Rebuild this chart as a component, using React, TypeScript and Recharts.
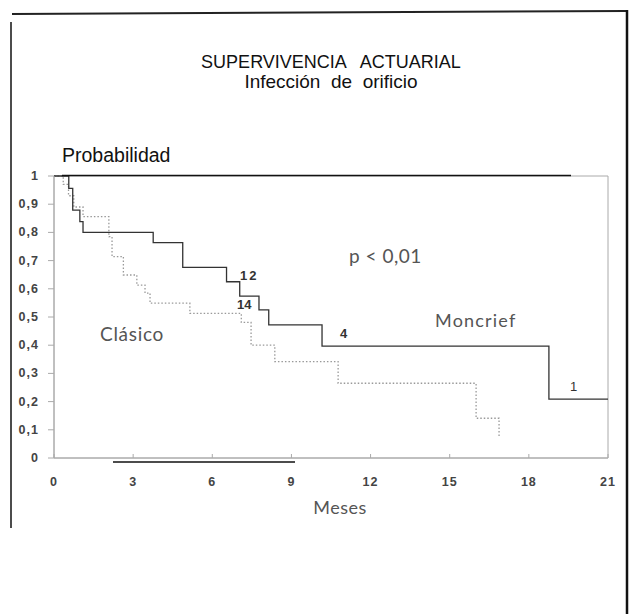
import React from "react";
import { LineChart, Line, XAxis, YAxis, ReferenceArea } from "recharts";

// Moncrief (línea continua)
const moncriefMeses = [0, 0.56, 0.71, 0.98, 1.1, 3.76, 4.88, 6.54, 7.04, 7.77, 8.14, 10.16, 18.76, 21];
const moncriefProb = [1, 0.956, 0.879, 0.838, 0.8, 0.764, 0.676, 0.625, 0.574, 0.525, 0.472, 0.397, 0.209, 0.209];

// Clásico (línea punteada)
const clasicoMeses = [0, 0.35, 0.55, 0.75, 1.1, 2.08, 2.2, 2.63, 3.14, 3.45, 3.64, 5.15, 7.1, 7.47, 8.37, 10.77, 16.0, 16.87];
const clasicoProb = [1, 0.97, 0.93, 0.89, 0.856, 0.785, 0.714, 0.649, 0.613, 0.585, 0.549, 0.513, 0.481, 0.4, 0.342, 0.265, 0.141, 0.078];

const xTicks = [0, 3, 6, 9, 12, 15, 18, 21];
const yTicks = [0, 0.1, 0.2, 0.3, 0.4, 0.5, 0.6, 0.7, 0.8, 0.9, 1];

const moncriefData = moncriefMeses.map((t, i) => ({ t, p: moncriefProb[i] }));
const clasicoData = clasicoMeses.map((t, i) => ({ t, p: clasicoProb[i] }));

const AXIS = "#aaa";
const TICK_FONT = "'Liberation Sans', Arial, sans-serif";
const LABEL_FONT = "Lato, 'Open Sans', sans-serif";

const XTick = (props: any) => {
  const { x, y, payload } = props;
  return (
    <g>
      <line x1={x} x2={x} y1={y - 4} y2={y} stroke={AXIS} />
      <text x={x} y={y + 28} textAnchor="middle" fontSize={12.5} fontWeight={600}
        fontFamily={TICK_FONT} fill="#444" letterSpacing={1}>
        {payload.value}
      </text>
    </g>
  );
};

const YTick = (props: any) => {
  const { x, y, payload } = props;
  const label = String(Math.round(payload.value * 10) / 10).replace(".", ",");
  return (
    <text x={x} y={y + 4} textAnchor="end" fontSize={12.5} fontWeight={600}
      fontFamily={TICK_FONT} fill="#444" letterSpacing={1}>
      {label}
    </text>
  );
};

export default function App() {
  return (
    <div style={{ position: "absolute", left: 0, top: 0, width: 635, height: 614, background: "#fff" }}>
      <LineChart width={635} height={614} data={moncriefData}
        margin={{ top: 176, right: 27, left: 10, bottom: 116 }}>
        <XAxis dataKey="t" type="number" domain={[0, 21]} ticks={xTicks}
          axisLine={{ stroke: AXIS }} tickLine={false} tickSize={0} tickMargin={0}
          height={40} tick={XTick} allowDataOverflow />
        <YAxis type="number" domain={[0, 1]} ticks={yTicks} width={44}
          axisLine={{ stroke: AXIS }} tickLine={{ stroke: AXIS }} tickSize={6} tickMargin={9}
          tick={YTick} />
        <ReferenceArea x1={0} x2={21} y1={0} y2={1} fill="none" stroke={AXIS} />
        <Line data={clasicoData} dataKey="p" type="stepAfter" stroke="#999" strokeWidth={1.3}
          strokeDasharray="1.5 2" dot={false} isAnimationActive={false} />
        <Line data={moncriefData} dataKey="p" type="stepAfter" stroke="#333" strokeWidth={1.3}
          dot={false} isAnimationActive={false} />
      </LineChart>

      <svg width={635} height={614} style={{ position: "absolute", left: 0, top: 0, pointerEvents: "none" }}>
        {/* marco de la página */}
        <line x1={12} y1={14} x2={626} y2={11} stroke="#222" strokeWidth={2} />
        <line x1={11} y1={22} x2={11} y2={528} stroke="#111" strokeWidth={1.5} />
        <line x1={627} y1={10} x2={627} y2={614} stroke="#111" strokeWidth={2.5} />
        <line x1={62} y1={175.5} x2={571} y2={175.5} stroke="#111" strokeWidth={1.5} />
        <line x1={113} y1={462} x2={295} y2={462} stroke="#111" strokeWidth={1.5} />

        <text x={331} y={68} textAnchor="middle" fontSize={18} fontFamily={TICK_FONT}
          fill="#111" style={{ whiteSpace: "pre" }}>
          SUPERVIVENCIA   ACTUARIAL
        </text>
        <text x={331} y={88} textAnchor="middle" fontSize={19} fontFamily={TICK_FONT} fill="#111"
          style={{ whiteSpace: "pre" }}>
          Infección  de  orificio
        </text>
        <text x={62} y={162} fontSize={19.5} fontFamily={TICK_FONT} fill="#111">Probabilidad</text>

        <text x={349} y={263} fontSize={19} fontFamily={LABEL_FONT} fill="#555" letterSpacing={0.5}>p &lt; 0,01</text>
        <text x={100} y={341} fontSize={19} fontFamily={LABEL_FONT} fill="#555" letterSpacing={0.7}>Clásico</text>
        <text x={435} y={327} fontSize={18} fontFamily={LABEL_FONT} fill="#555" letterSpacing={1.2}>Moncrief</text>
        <text x={340} y={514} textAnchor="middle" fontSize={18} fontFamily={LABEL_FONT} fill="#555" letterSpacing={0.5}>Meses</text>

        <text x={240} y={280} fontSize={13} fontWeight={700} fontFamily={TICK_FONT} fill="#333" letterSpacing={2}>12</text>
        <text x={237} y={309} fontSize={13} fontWeight={700} fontFamily={TICK_FONT} fill="#333">14</text>
        <text x={340} y={338} fontSize={13} fontWeight={700} fontFamily={TICK_FONT} fill="#333">4</text>
        <text x={570} y={391} fontSize={13} fontFamily={TICK_FONT} fill="#333">1</text>
      </svg>
    </div>
  );
}
